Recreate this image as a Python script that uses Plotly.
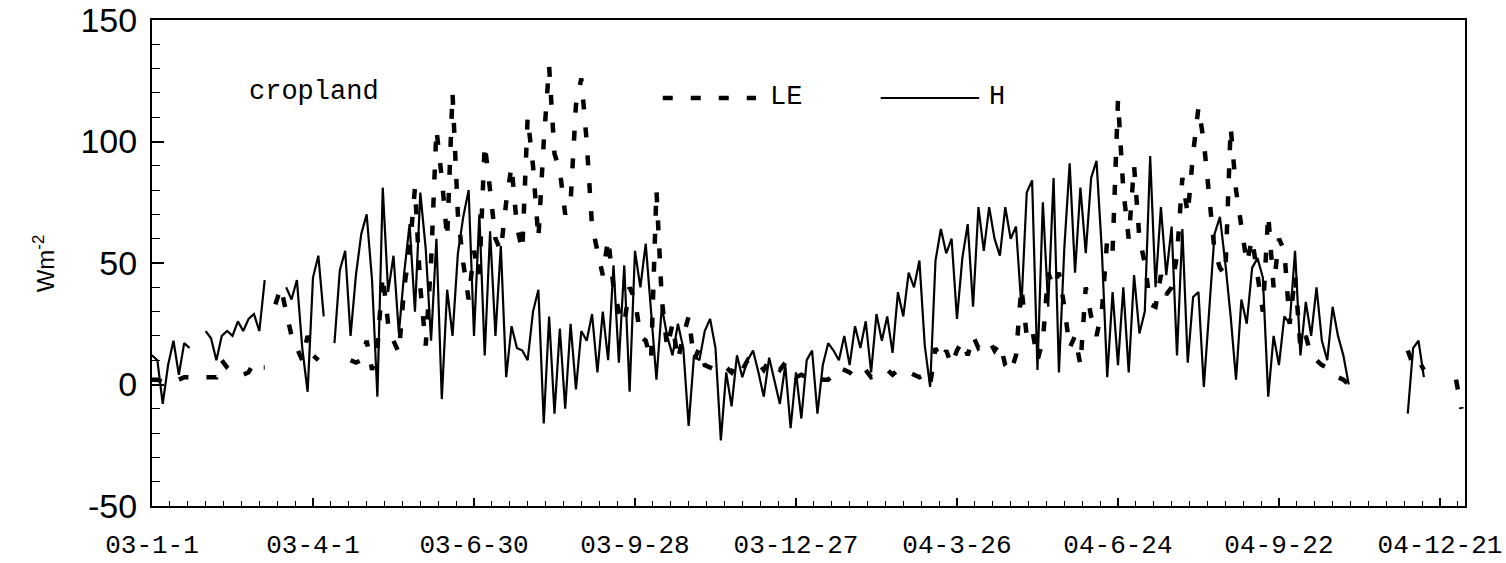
import pandas as pd
import plotly.graph_objects as go

# samples every 3 days from 2003-01-01, W m-2
h_flux = [
    12, 10, -8, 8, 18, 4, 17, 15, None, None,
    22, 19, 10, 20, 22, 20, 26, 22, 27, 29,
    22, 43, None, None, None, 40, 35, 43, 15, -3,
    44, 53, 28, None, 17, 47, 55, 20, 45, 62,
    70, 43, -5, 81, 38, 53, 21, 46, 66, 30,
    79, 56, 18, 60, -6, 39, 20, 54, 69, 80,
    20, 70, 12, 63, 20, 57, 3, 24, 15, 14,
    10, 30, 39, -16, 28, -12, 23, -10, 25, -2,
    22, 18, 29, 5, 30, 10, 49, 9, 49, -3,
    55, 40, 58, 30, 2, 32, 20, 12, 25, 15,
    -17, 12, 10, 22, 27, 15, -23, 5, -9, 12,
    3, 10, 14, 5, -5, 11, 2, -8, 8, -18,
    5, -14, 10, 14, -12, 8, 17, 14, 10,
    20, 8, 24, 15, 26, 5, 29, 18, 28, 13,
    38, 28, 46, 40, 51, 16, -1, 51, 64, 54,
    60, 27, 52, 66, 32, 73, 55, 73, 60, 53,
    73, 60, 65, 32, 79, 84, 6, 75, 32, 85,
    5, 56, 91, 46, 81, 54, 85, 92, 55, 3,
    38, 8, 40, 5, 45, 21, 30, 94, 40, 73,
    45, 65, 12, 64, 9, 36, 38, -1, 30, 62,
    69, 50, 28, 2, 35, 25, 48, 52, 44, -5,
    20, 8, 28, 25, 55, 12, 34, 20, 40, 18,
    10, 32, 20, 12, 0, None, None, None, None, None,
    None, None, None, None, None, -12, 15, 18, 3, None,
    None, None, None, None, None, None,
]

le_flux = [
    2, 2, 1, 2, 2, 2, 3, 3, 3, 3,
    3, 3, 3, 10, 7, 5, 4, 4, 5, 9,
    7, 7, None, 33, 40, 30, 20, 15, 10, 20,
    12, 10, None, None, None, None, None, 10, 9, 10,
    18, 6, 15, 45, 25, 18, 13, 40, 55, 81,
    40, 16, 50, 105, 85, 60, 120, 70, 50, 35,
    55, 45, 99, 80, 60, 55, 75, 90, 65, 55,
    110, 90, 60, 100, 131, 95, 88, 70, 75, 115,
    126, 100, 65, 55, 45, 60, 40, 30, 25, 40,
    35, 20, 18, 10, 80, 35, 15, 25, 10, 20,
    28, 10, 15, 8, 7, 6, 5, 7, 5, 9,
    6, 10, 8, 9, 6, 10, 8, 6, 9, 5,
    3, 4, 3, 2, 3, 2, 2, 4, 7,
    6, 5, 3, 4, 6, 3, 4, 5, 6, 4,
    6, 5, 5, 4, 3, 4, 0, 15, 10, 14,
    8, 14, 18, 12, 20, 15, 17, 18, 14, 17,
    8, 5, 12, 40, 20, 23, 10, 18, 46, 40,
    46, 32, 15, 20, 8, 40, 28, 20, 30, 60,
    55, 117, 80, 60, 90, 60, 50, 33, 32, 45,
    37, 40, 53, 85, 70, 95, 114, 100, 75, 55,
    48, 45, 106, 80, 65, 50, 60, 45, 30, 70,
    40, 60, 55, 25, 45, 15, 20, 12, 10, 8,
    7, 5, 3, 2, 0, None, None, None, None, None,
    None, None, None, None, None, 14, 8, 10, 6, None,
    None, None, None, None, 2, -10,
]

tick_dates = ["2003-01-01", "2003-04-01", "2003-06-30", "2003-09-28", "2003-12-27",
              "2004-03-26", "2004-06-24", "2004-09-22", "2004-12-21"]
tick_text = ["03-1-1", "03-4-1", "03-6-30", "03-9-28", "03-12-27",
             "04-3-26", "04-6-24", "04-9-22", "04-12-21"]
y_ticks = [-50, 0, 50, 100, 150]
y_text = ["-50", "0", "50", "100", "150"]

assert len(h_flux) == len(le_flux)
dates = pd.date_range("2003-01-01", periods=len(h_flux), freq="3D")

LE_DASH = "10px,18px"

fig = go.Figure()
fig.add_trace(go.Scatter(x=dates, y=le_flux, mode="lines", name="LE",
                         line=dict(color="black", width=4.5, dash=LE_DASH)))
fig.add_trace(go.Scatter(x=dates, y=h_flux, mode="lines", name="H",
                         line=dict(color="black", width=2.2)))

fig.update_layout(
    width=1506, height=563,
    margin=dict(l=152, r=41, t=20, b=57),
    paper_bgcolor="white", plot_bgcolor="white",
    showlegend=False,
    font=dict(family="Liberation Sans", color="black"),
)

fig.update_xaxes(
    type="date", range=["2003-01-01", "2005-01-04"], automargin=False,
    tickmode="array", tickvals=tick_dates, ticktext=tick_text,
    ticks="inside", ticklen=8, tickwidth=1.5, tickcolor="black",
    minor=dict(tick0="2003-01-01", dtick=10 * 86400000, ticks="inside",
               ticklen=5, tickwidth=1.2, tickcolor="black", showgrid=False),
    showline=True, linewidth=2, linecolor="black", mirror=True,
    showgrid=False, zeroline=False,
    tickfont=dict(family="Liberation Mono", size=26),
    ticklabelstandoff=14, ticklabeloverflow="allow",
)
fig.update_yaxes(
    range=[-50, 150], automargin=False,
    tickmode="array", tickvals=y_ticks, ticktext=y_text,
    ticks="inside", ticklen=12, tickwidth=1.5, tickcolor="black",
    minor=dict(dtick=10, tick0=0, ticks="inside", ticklen=8,
               tickwidth=1.2, tickcolor="black", showgrid=False),
    showline=True, linewidth=2, linecolor="black", mirror=True,
    showgrid=False, zeroline=False,
    tickfont=dict(family="Liberation Sans", size=34),
    ticklabelstandoff=6, ticklabeloverflow="allow",
)

# y title
fig.add_annotation(text="Wm<sup>-2</sup>", xref="paper", yref="paper",
                   x=-0.082, y=0.5, textangle=-90, showarrow=False,
                   xanchor="center", yanchor="middle",
                   font=dict(family="Liberation Sans", size=24))

# in-plot labels and legend
mono = dict(family="Liberation Mono", size=27, color="black")
fig.add_annotation(text="cropland", xref="paper", yref="paper", x=0.072, y=0.852,
                   xanchor="left", yanchor="middle", showarrow=False, font=mono)
fig.add_shape(type="line", xref="paper", yref="paper", x0=0.389, x1=0.460,
              y0=0.8395, y1=0.8395, line=dict(color="black", width=4.5, dash=LE_DASH))
fig.add_annotation(text="LE", xref="paper", yref="paper", x=0.469, y=0.8416,
                   xanchor="left", yanchor="middle", showarrow=False, font=mono)
fig.add_shape(type="line", xref="paper", yref="paper", x0=0.555, x1=0.630,
              y0=0.8395, y1=0.8395, line=dict(color="black", width=2.2))
fig.add_annotation(text="H", xref="paper", yref="paper", x=0.636, y=0.8416,
                   xanchor="left", yanchor="middle", showarrow=False, font=mono)

# drop the default 8px page margin so the figure fills the window exactly
fig.write_html("out.html", config={"displayModeBar": False},
               post_script="document.body.style.margin = '0';")
